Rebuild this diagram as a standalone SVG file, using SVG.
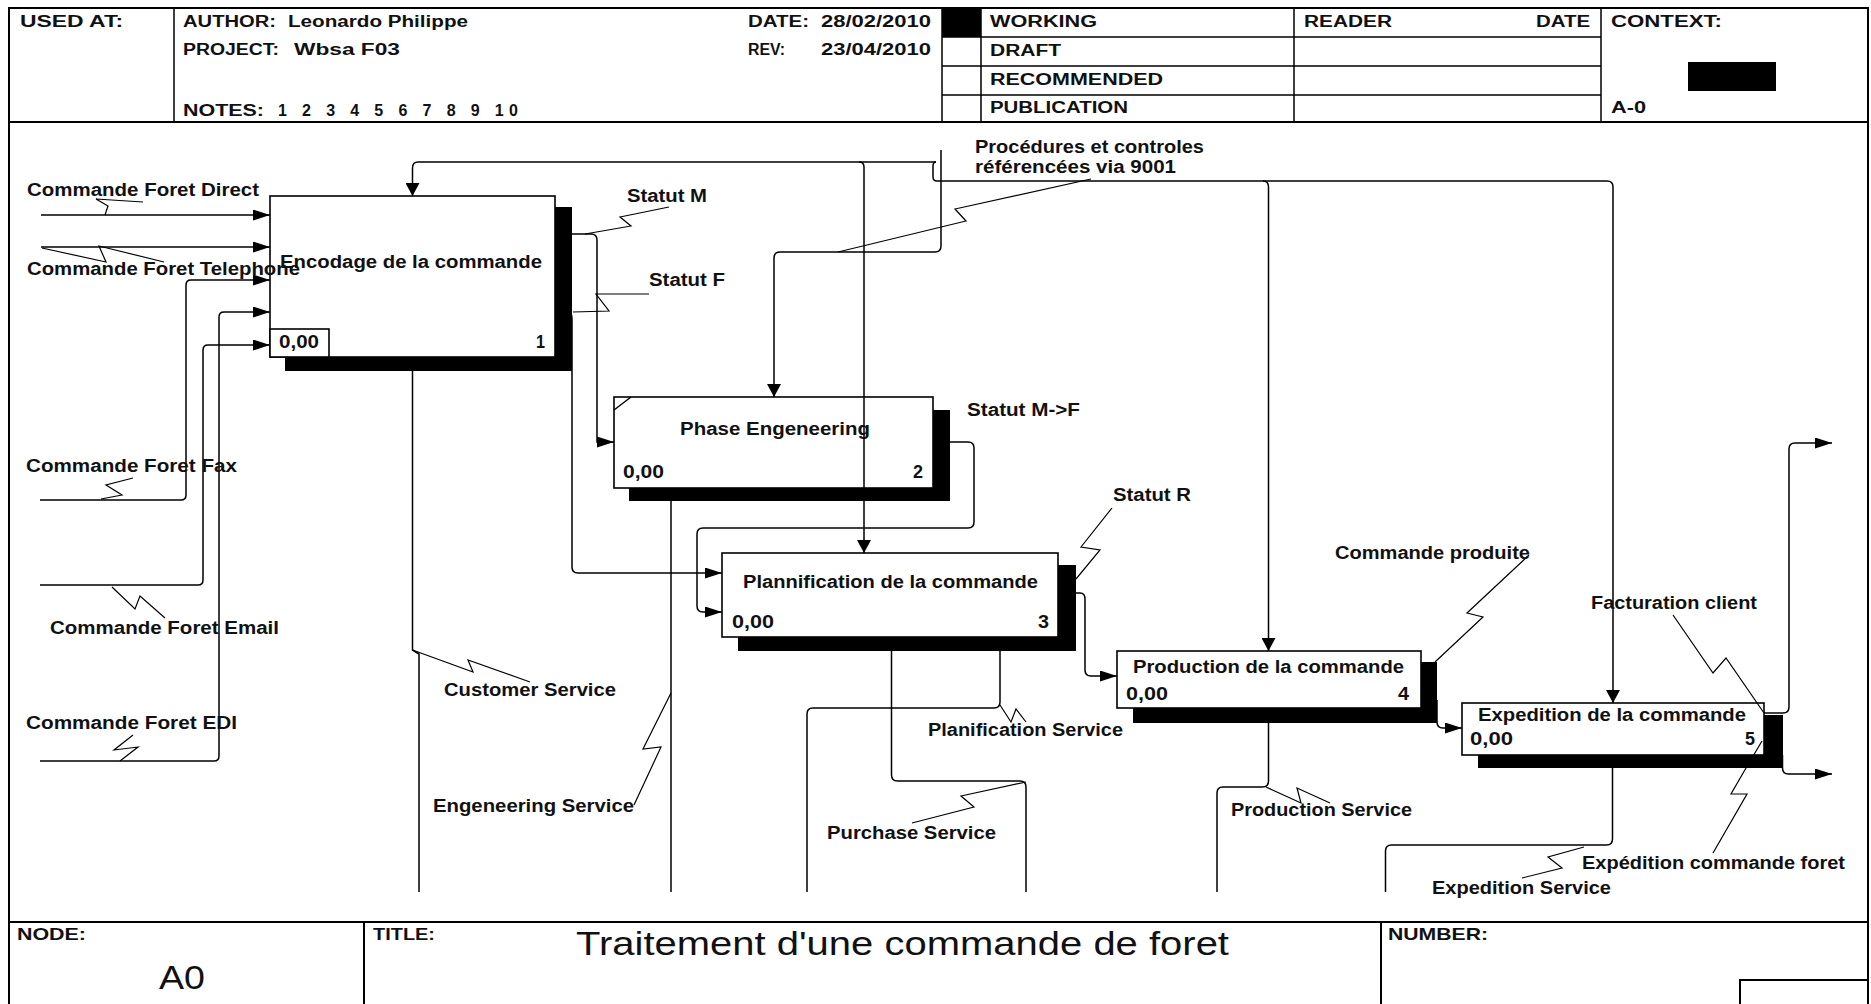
<svg xmlns="http://www.w3.org/2000/svg" width="1871" height="1004" viewBox="0 0 1871 1004">
<style>
text{font-family:"Liberation Sans",Arial,sans-serif;fill:#111}
.hdr{font-size:16px;font-weight:bold}
.lbl{font-size:17.5px;font-weight:bold}
.ttl{font-size:18px;font-weight:bold}
.ftr{font-size:17px;font-weight:bold}
.big{font-size:34px}
.frame{fill:none;stroke:#000;stroke-width:2}
.thin{fill:none;stroke:#000;stroke-width:1.5}
.box{fill:#fff;stroke:#000;stroke-width:1.6}
.shadow{fill:#000}
.conn{fill:none;stroke:#000;stroke-width:1.5}
.sq{fill:none;stroke:#000;stroke-width:1.2}
</style>
<defs>
<marker id="ah" viewBox="0 0 17 11" refX="17" refY="5.5" markerWidth="17" markerHeight="11" orient="auto" markerUnits="userSpaceOnUse"><path d="M0,0 L17,5.5 L0,11 Z" fill="#000"/></marker>
<marker id="av" viewBox="0 0 13 14" refX="13" refY="7" markerWidth="13" markerHeight="14" orient="auto" markerUnits="userSpaceOnUse"><path d="M0,0 L13,7 L0,14 Z" fill="#000"/></marker>
</defs>
<rect x="0" y="0" width="1871" height="1004" fill="#fff"/>

<g id="frame">
<path class="frame" d="M9,1004 V8 H1868 V1004"/>
<path class="frame" d="M9,122 H1868 M9,922 H1868 M364,922 V1004 M1381,922 V1004 M1740,1004 V980 H1868"/>
<path class="thin" d="M174,8 V122 M942,8 V122 M981,8 V122 M1294,8 V122 M1601,8 V122 M942,37 H1601 M942,66 H1601 M942,95 H1601"/>
<rect x="942" y="8" width="39" height="29" fill="#000"/>
<rect x="1688" y="62" width="88" height="29" fill="#000"/>
</g>

<g id="header">
<text class="hdr" x="20" y="27" textLength="103" lengthAdjust="spacingAndGlyphs">USED AT:</text>
<text class="hdr" x="183" y="27" textLength="93" lengthAdjust="spacingAndGlyphs">AUTHOR:</text>
<text class="hdr" x="288" y="27" textLength="180" lengthAdjust="spacingAndGlyphs">Leonardo Philippe</text>
<text class="hdr" x="183" y="55" textLength="96" lengthAdjust="spacingAndGlyphs">PROJECT:</text>
<text class="hdr" x="294" y="55" textLength="106" lengthAdjust="spacingAndGlyphs">Wbsa F03</text>
<text class="hdr" x="183" y="116" textLength="81" lengthAdjust="spacingAndGlyphs">NOTES:</text>
<text class="hdr" x="278" y="116" textLength="240" lengthAdjust="spacing">1 2 3 4 5 6 7 8 9 10</text>
<text class="hdr" x="748" y="27" textLength="61" lengthAdjust="spacingAndGlyphs">DATE:</text>
<text class="hdr" x="821" y="27" textLength="110" lengthAdjust="spacingAndGlyphs">28/02/2010</text>
<text class="hdr" x="748" y="55" textLength="37" lengthAdjust="spacingAndGlyphs">REV:</text>
<text class="hdr" x="821" y="55" textLength="110" lengthAdjust="spacingAndGlyphs">23/04/2010</text>
<text class="hdr" x="990" y="27" textLength="107" lengthAdjust="spacingAndGlyphs">WORKING</text>
<text class="hdr" x="990" y="56" textLength="71" lengthAdjust="spacingAndGlyphs">DRAFT</text>
<text class="hdr" x="990" y="85" textLength="173" lengthAdjust="spacingAndGlyphs">RECOMMENDED</text>
<text class="hdr" x="990" y="113" textLength="138" lengthAdjust="spacingAndGlyphs">PUBLICATION</text>
<text class="hdr" x="1304" y="27" textLength="88" lengthAdjust="spacingAndGlyphs">READER</text>
<text class="hdr" x="1536" y="27" textLength="54" lengthAdjust="spacingAndGlyphs">DATE</text>
<text class="hdr" x="1611" y="27" textLength="111" lengthAdjust="spacingAndGlyphs">CONTEXT:</text>
<text class="hdr" x="1611" y="113" textLength="35" lengthAdjust="spacingAndGlyphs">A-0</text>
</g>

<g id="footer">
<text class="ftr" x="17" y="940" textLength="69" lengthAdjust="spacingAndGlyphs">NODE:</text>
<text class="ftr" x="373" y="940" textLength="62" lengthAdjust="spacingAndGlyphs">TITLE:</text>
<text class="ftr" x="1388" y="940" textLength="100" lengthAdjust="spacingAndGlyphs">NUMBER:</text>
<text class="big" x="576" y="955" textLength="653" lengthAdjust="spacingAndGlyphs">Traitement d'une commande de foret</text>
<text class="big" x="159" y="989" textLength="46" lengthAdjust="spacingAndGlyphs">A0</text>
</g>

<g id="node1">
<rect class="shadow" x="285" y="207" width="287" height="164"/>
<rect class="box" x="270" y="196" width="285" height="161"/>
<rect class="box" x="270" y="329" width="59" height="28"/>
<text class="ttl" x="280" y="268" textLength="262" lengthAdjust="spacingAndGlyphs">Encodage de la commande</text>
<text class="ttl" x="279" y="348" textLength="40" lengthAdjust="spacingAndGlyphs">0,00</text>
<text class="ttl" x="536" y="348" textLength="9" lengthAdjust="spacingAndGlyphs">1</text>
</g>

<g id="node2">
<rect class="shadow" x="629" y="410" width="321" height="91"/>
<rect class="box" x="614" y="397" width="319" height="91"/>
<path class="thin" d="M614,410 L631,397"/>
<text class="ttl" x="680" y="435" textLength="190" lengthAdjust="spacingAndGlyphs">Phase Engeneering</text>
<text class="ttl" x="623" y="478" textLength="41" lengthAdjust="spacingAndGlyphs">0,00</text>
<text class="ttl" x="913" y="478" textLength="10" lengthAdjust="spacingAndGlyphs">2</text>
</g>

<g id="node3">
<rect class="shadow" x="738" y="565" width="338" height="86"/>
<rect class="box" x="722" y="553" width="336" height="84"/>
<text class="ttl" x="743" y="588" textLength="295" lengthAdjust="spacingAndGlyphs">Plannification de la commande</text>
<text class="ttl" x="732" y="628" textLength="42" lengthAdjust="spacingAndGlyphs">0,00</text>
<text class="ttl" x="1038" y="628" textLength="11" lengthAdjust="spacingAndGlyphs">3</text>
</g>

<g id="node4">
<rect class="shadow" x="1133" y="662" width="304" height="61"/>
<rect class="box" x="1117" y="651" width="304" height="57"/>
<text class="ttl" x="1133" y="673" textLength="271" lengthAdjust="spacingAndGlyphs">Production de la commande</text>
<text class="ttl" x="1126" y="700" textLength="42" lengthAdjust="spacingAndGlyphs">0,00</text>
<text class="ttl" x="1398" y="700" textLength="11" lengthAdjust="spacingAndGlyphs">4</text>
</g>

<g id="node5">
<rect class="shadow" x="1478" y="715" width="305" height="53"/>
<rect class="box" x="1462" y="703" width="302" height="52"/>
<text class="ttl" x="1478" y="721" textLength="268" lengthAdjust="spacingAndGlyphs">Expedition de la commande</text>
<text class="ttl" x="1470" y="745" textLength="43" lengthAdjust="spacingAndGlyphs">0,00</text>
<text class="ttl" x="1745" y="745" textLength="10" lengthAdjust="spacingAndGlyphs">5</text>
</g>

<g id="connectors">
<path class="conn" marker-end="url(#ah)" d="M41,215 H270"/>
<path class="conn" marker-end="url(#ah)" d="M41,247 H270"/>
<path class="conn" marker-end="url(#ah)" d="M40,500 H181 Q186,500 186,495 V285 Q186,280 191,280 H270"/>
<path class="conn" marker-end="url(#ah)" d="M40,585 H198 Q203,585 203,580 V350 Q203,345 208,345 H270"/>
<path class="conn" marker-end="url(#ah)" d="M40,761 H214 Q219,761 219,756 V317 Q219,312 224,312 H270"/>
<path class="conn" marker-end="url(#av)" d="M941,150 V246 Q941,252 935,252 H780 Q774,252 774,258 V397"/>
<path class="conn" marker-end="url(#av)" d="M936,162 H418 Q412.5,162 412.5,168 V196"/>
<path class="conn" d="M936,162 Q933,162 933,166 V177 Q933,181 937,181 H941"/>
<path class="conn" marker-end="url(#av)" d="M941,181 H1607 Q1613,181 1613,187 V703"/>
<path class="conn" marker-end="url(#av)" d="M1263,181 Q1268.5,181 1268.5,187 V651"/>
<path class="conn" marker-end="url(#av)" d="M859,162 Q864,162 864,167 V553"/>
<path class="conn" marker-end="url(#ah)" d="M555,234 H591 Q597,234 597,240 V442 H614"/>
<path class="conn" marker-end="url(#ah)" d="M555,312 H566 Q572,312 572,318 V567 Q572,573 578,573 H722"/>
<path class="conn" marker-end="url(#ah)" d="M933,442 H968 Q974,442 974,448 V522 Q974,528 968,528 H703 Q697,528 697,534 V606 Q697,612 703,612 H722"/>
<path class="conn" marker-end="url(#ah)" d="M1058,593 H1080 Q1085,593 1085,599 V670 Q1085,676 1091,676 H1117"/>
<path class="conn" marker-end="url(#ah)" d="M1437,700 V722 Q1437,728 1443,728 H1462"/>
<path class="conn" marker-end="url(#ah)" d="M1764,713 H1783 Q1789,713 1789,707 V449 Q1789,443 1795,443 H1832"/>
<path class="conn" marker-end="url(#ah)" d="M1782.5,755 V768 Q1782.5,774 1788.5,774 H1832"/>
<path class="conn" d="M412.5,371 V650 L419,654 V892"/>
<path class="conn" d="M671,501 V892"/>
<path class="conn" d="M891.5,651 V775 Q891.5,781 897.5,781 H1020 Q1026,781 1026,787 V892"/>
<path class="conn" d="M1000,651 V702 Q1000,708 994,708 H813 Q807,708 807,714 V892"/>
<path class="conn" d="M1268.5,723 V781 Q1268.5,787 1262.5,787 H1223 Q1217,787 1217,793 V892"/>
<path class="conn" d="M1612.5,768 V839 Q1612.5,845 1606.5,845 H1391.5 Q1385.5,845 1385.5,851 V892"/>
<path class="sq" d="M143,202 L96,199 L108,206 L105,215"/>
<path class="sq" d="M42,248 L106,262 L99,246 L164,262"/>
<path class="sq" d="M133,478 L106,485 L122,495 L101,499"/>
<path class="sq" d="M112,587 L135,609 L140,596 L165,618"/>
<path class="sq" d="M133,735 L114,750 L138,747 L120,761"/>
<path class="sq" d="M669,207 L620,217 L631,226 L585,234"/>
<path class="sq" d="M649,294 L596,294 L609,311 L573,312"/>
<path class="sq" d="M1091,179 L955,209 L966,221 L838,252"/>
<path class="sq" d="M530,682 L468,660 L473,672 L412.5,650"/>
<path class="sq" d="M634,805 L661,747 L643,749 L671,693"/>
<path class="sq" d="M1000,705 L1011,722 L1016,709 L1026,722"/>
<path class="sq" d="M912,823 L974,807 L961,796 L1026,782"/>
<path class="sq" d="M1112,508 L1081,547 L1100,550 L1076,579"/>
<path class="sq" d="M1529,555 L1467,613 L1483,617 L1435,662"/>
<path class="sq" d="M1266,787 L1301,803 L1297,788 L1330,803"/>
<path class="sq" d="M1673,615 L1713,673 L1726,658 L1764,713"/>
<path class="sq" d="M1713,853 L1747,794 L1731,794 L1746,768 L1762,741"/>
<path class="sq" d="M1522,878 L1562,868 L1548,857 L1584,847"/>
<text class="lbl" x="27" y="196" textLength="232" lengthAdjust="spacingAndGlyphs">Commande Foret Direct</text>
<text class="lbl" x="27" y="275" textLength="273" lengthAdjust="spacingAndGlyphs">Commande Foret Telephone</text>
<text class="lbl" x="26" y="472" textLength="211" lengthAdjust="spacingAndGlyphs">Commande Foret Fax</text>
<text class="lbl" x="50" y="634" textLength="229" lengthAdjust="spacingAndGlyphs">Commande Foret Email</text>
<text class="lbl" x="26" y="729" textLength="211" lengthAdjust="spacingAndGlyphs">Commande Foret EDI</text>
<text class="lbl" x="627" y="202" textLength="80" lengthAdjust="spacingAndGlyphs">Statut M</text>
<text class="lbl" x="649" y="286" textLength="76" lengthAdjust="spacingAndGlyphs">Statut F</text>
<text class="lbl" x="975" y="153" textLength="229" lengthAdjust="spacingAndGlyphs">Procédures et controles</text>
<text class="lbl" x="975" y="173" textLength="201" lengthAdjust="spacingAndGlyphs">référencées via 9001</text>
<text class="lbl" x="967" y="416" textLength="113" lengthAdjust="spacingAndGlyphs">Statut M-&gt;F</text>
<text class="lbl" x="1113" y="501" textLength="78" lengthAdjust="spacingAndGlyphs">Statut R</text>
<text class="lbl" x="444" y="696" textLength="172" lengthAdjust="spacingAndGlyphs">Customer Service</text>
<text class="lbl" x="433" y="812" textLength="201" lengthAdjust="spacingAndGlyphs">Engeneering Service</text>
<text class="lbl" x="928" y="736" textLength="195" lengthAdjust="spacingAndGlyphs">Planification Service</text>
<text class="lbl" x="827" y="839" textLength="169" lengthAdjust="spacingAndGlyphs">Purchase Service</text>
<text class="lbl" x="1335" y="559" textLength="195" lengthAdjust="spacingAndGlyphs">Commande produite</text>
<text class="lbl" x="1231" y="816" textLength="181" lengthAdjust="spacingAndGlyphs">Production Service</text>
<text class="lbl" x="1591" y="609" textLength="166" lengthAdjust="spacingAndGlyphs">Facturation client</text>
<text class="lbl" x="1582" y="869" textLength="263" lengthAdjust="spacingAndGlyphs">Expédition commande foret</text>
<text class="lbl" x="1432" y="894" textLength="179" lengthAdjust="spacingAndGlyphs">Expedition Service</text>
</g>
</svg>
